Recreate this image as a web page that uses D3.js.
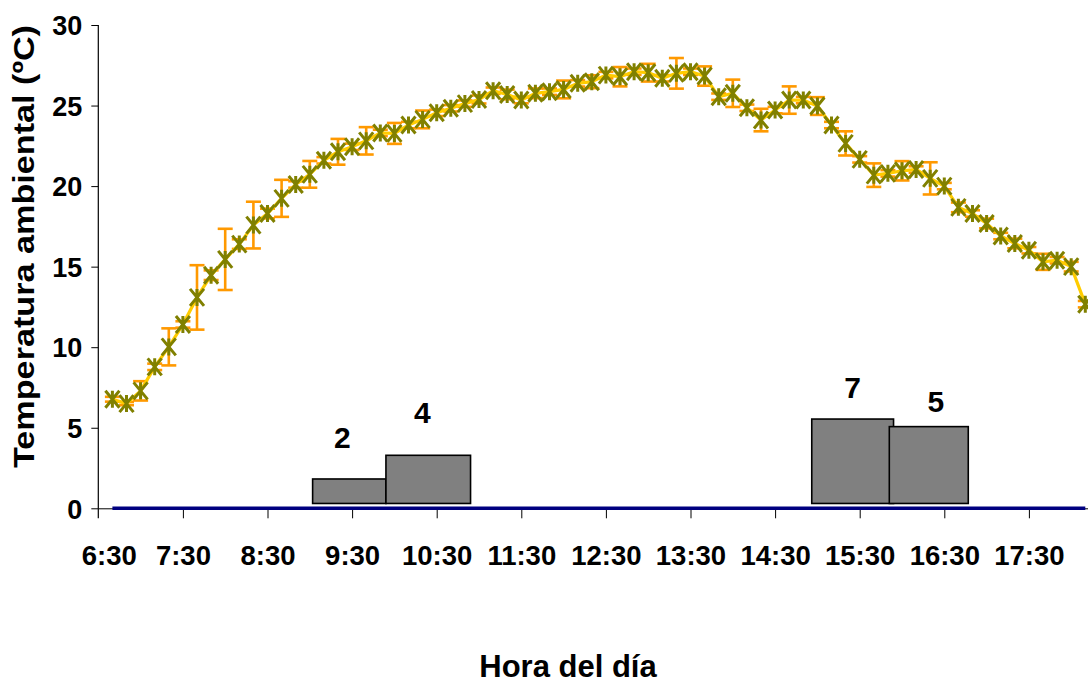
<!DOCTYPE html>
<html>
<head>
<meta charset="utf-8">
<script src="https://cdn.jsdelivr.net/npm/d3@7"></script>
<style>
  html, body { margin: 0; padding: 0; background: #ffffff; }
  svg { display: block; }
  text { font-family: "Liberation Sans", Arial, sans-serif; font-weight: bold; fill: #000; }
</style>
</head>
<body>
<svg id="chart" width="1088" height="682"></svg>
<script>
// Sampling times (every 10 minutes)
const times = [
  "6:40","6:50","7:00","7:10","7:20","7:30","7:40","7:50","8:00","8:10",
  "8:20","8:30","8:40","8:50","9:00","9:10","9:20","9:30","9:40","9:50",
  "10:00","10:10","10:20","10:30","10:40","10:50","11:00","11:10","11:20","11:30",
  "11:40","11:50","12:00","12:10","12:20","12:30","12:40","12:50","13:00","13:10",
  "13:20","13:30","13:40","13:50","14:00","14:10","14:20","14:30","14:40","14:50",
  "15:00","15:10","15:20","15:30","15:40","15:50","16:00","16:10","16:20","16:30",
  "16:40","16:50","17:00","17:10","17:20","17:30","17:40","17:50","18:00","18:10"
];

// Mean ambient temperature (ºC)
const temperature = [
  6.77, 6.50, 7.29, 8.78, 10.02, 11.41, 13.09, 14.47, 15.45, 16.40,
  17.58, 18.30, 19.24, 20.10, 20.73, 21.60, 22.13, 22.44, 22.81, 23.30,
  23.27, 23.79, 24.14, 24.55, 24.83, 25.12, 25.38, 25.92, 25.69, 25.34,
  25.76, 25.86, 26.00, 26.38, 26.48, 26.89, 26.79, 27.10, 27.04, 26.69,
  27.00, 27.10, 26.83, 25.55, 25.76, 24.86, 24.10, 24.72, 25.34, 25.34,
  24.97, 23.79, 22.65, 21.66, 20.68, 20.79, 20.95, 21.03, 20.48, 20.00,
  18.68, 18.30, 17.68, 16.90, 16.44, 16.02, 15.30, 15.40, 15.00, 12.67
];

// Error (± ºC) for each reading
const tempError = [
  0.15, 0.10, 0.60, 0.20, 1.15, 0.20, 2.00, 0.30, 1.90, 0.30,
  1.45, 0.30, 1.15, 0.20, 0.83, 0.20, 0.80, 0.20, 0.85, 0.20,
  0.65, 0.20, 0.55, 0.20, 0.20, 0.20, 0.25, 0.20, 0.30, 0.20,
  0.30, 0.20, 0.55, 0.20, 0.40, 0.20, 0.60, 0.20, 0.55, 0.20,
  0.95, 0.20, 0.60, 0.20, 0.85, 0.20, 0.70, 0.20, 0.85, 0.20,
  0.55, 0.20, 0.75, 0.20, 0.73, 0.20, 0.60, 0.20, 1.00, 0.20,
  0.30, 0.20, 0.30, 0.20, 0.30, 0.20, 0.50, 0.20, 0.30, 0.20
];

// Baseline series (zero level)
const baseline = times.map(() => 0);

// Activity blocks: time span, top value and count label
const blockStart = ["9:02", "9:54", "14:56", "15:51"];
const blockEnd   = ["9:54", "10:54", "15:54", "16:47"];
const blockTop   = [1.82, 3.29, 5.54, 5.07];
const blockBase  = 0.3;
const blockLabel = ["2", "4", "7", "5"];

// Axis ticks
const xTickLabels = ["6:30","7:30","8:30","9:30","10:30","11:30","12:30","13:30","14:30","15:30","16:30","17:30"];
const yTicks = [0, 5, 10, 15, 20, 25, 30];

// Label placement relative to each block (pixels)
const labelShiftX = [-7, -6, 0, 7];
const labelLift   = [31, 32, 21, 15];

const toMin = s => { const [h, m] = s.split(":").map(Number); return h * 60 + m; };

const svg = d3.select("#chart");
const x = d3.scaleLinear().domain([toMin("6:30"), toMin("18:30")]).range([98.3, 1113.5]);
const y = d3.scaleLinear().domain([0, 30]).range([508.3, 25]);

const data = times.map((t, i) => ({ t: toMin(t), v: temperature[i], e: tempError[i] }));

// Y axis
const yAxis = svg.append("g").attr("transform", `translate(${x(toMin("6:30"))},0)`)
  .call(d3.axisLeft(y).tickValues(yTicks).tickSize(7).tickSizeOuter(0).tickPadding(9));
yAxis.select(".domain").remove();
yAxis.selectAll(".tick line").attr("stroke", "#000").attr("stroke-width", 1);
yAxis.selectAll(".tick text").style("font-size", "27px").attr("dy", "0.36em");
svg.append("line")
  .attr("x1", x(toMin("6:30"))).attr("x2", x(toMin("6:30")))
  .attr("y1", y(30)).attr("y2", y(0) + 10)
  .attr("stroke", "#000").attr("stroke-width", 1.2);

// X axis
const xAxis = svg.append("g").attr("transform", `translate(0,${y(0)})`)
  .call(d3.axisBottom(x).tickValues(xTickLabels.map(toMin))
    .tickFormat((d, i) => xTickLabels[i]).tickSize(10).tickSizeOuter(0));
xAxis.select(".domain").attr("stroke", "#000").attr("stroke-width", 1);
xAxis.selectAll(".tick line").attr("stroke", "#000").attr("stroke-width", 1);
xAxis.selectAll(".tick text").style("font-size", "27.5px").attr("y", 57).attr("dy", 0)
  .attr("dx", (d, i) => i === 0 ? 10.5 : 0);
xAxis.selectAll(".tick").filter((d, i) => i === 0).select("line").remove();

// Activity blocks
svg.append("g").selectAll("rect").data(blockTop).join("rect")
  .attr("x", (d, i) => x(toMin(blockStart[i])))
  .attr("width", (d, i) => x(toMin(blockEnd[i])) - x(toMin(blockStart[i])))
  .attr("y", d => y(d))
  .attr("height", d => y(blockBase) - y(d))
  .attr("fill", "#808080").attr("stroke", "#000").attr("stroke-width", 1.6);

svg.append("g").selectAll("text").data(blockTop).join("text")
  .attr("x", (d, i) => (x(toMin(blockStart[i])) + x(toMin(blockEnd[i]))) / 2 + labelShiftX[i])
  .attr("y", (d, i) => y(d) - labelLift[i])
  .attr("text-anchor", "middle")
  .style("font-size", "30px")
  .text((d, i) => blockLabel[i]);

// Zero baseline series
svg.append("path")
  .datum(baseline.map((v, i) => ({ t: toMin(times[i]), v })))
  .attr("fill", "none").attr("stroke", "#000080").attr("stroke-width", 3.6)
  .attr("d", d3.line().x(d => x(d.t)).y(d => y(d.v)));

// Error bars
const eb = svg.append("g").attr("stroke", "#FF9900").attr("stroke-width", 2.6).attr("fill", "none");
const cap = 7.5;
data.forEach(d => {
  const x0 = x(d.t), yt = y(d.v + d.e), yb = y(d.v - d.e);
  eb.append("line").attr("x1", x0).attr("x2", x0).attr("y1", yt).attr("y2", yb);
  eb.append("line").attr("x1", x0 - cap).attr("x2", x0 + cap).attr("y1", yt).attr("y2", yt);
  eb.append("line").attr("x1", x0 - cap).attr("x2", x0 + cap).attr("y1", yb).attr("y2", yb);
});

// Temperature line
svg.append("path").datum(data)
  .attr("fill", "none").attr("stroke", "#FFCC00").attr("stroke-width", 3.2)
  .attr("d", d3.line().x(d => x(d.t)).y(d => y(d.v)));

// Star markers (X with vertical stroke)
const mw = 7, mh = 8.5;
svg.append("g").selectAll("path").data(data).join("path")
  .attr("transform", d => `translate(${x(d.t)},${y(d.v)})`)
  .attr("d", `M${-mw},${-mh}L${mw},${mh}M${-mw},${mh}L${mw},${-mh}M0,${-mh}L0,${mh}`)
  .attr("fill", "none").attr("stroke", "#808000").attr("stroke-width", 3);

// Axis titles
svg.append("text")
  .attr("x", 568).attr("y", 676.5)
  .attr("text-anchor", "middle")
  .style("font-size", "31px")
  .text("Hora del día");

svg.append("text")
  .attr("transform", "translate(34,246.5) rotate(-90)")
  .attr("text-anchor", "middle")
  .attr("textLength", 443).attr("lengthAdjust", "spacingAndGlyphs")
  .style("font-size", "30px")
  .text("Temperatura ambiental (ºC)");
</script>
</body>
</html>
